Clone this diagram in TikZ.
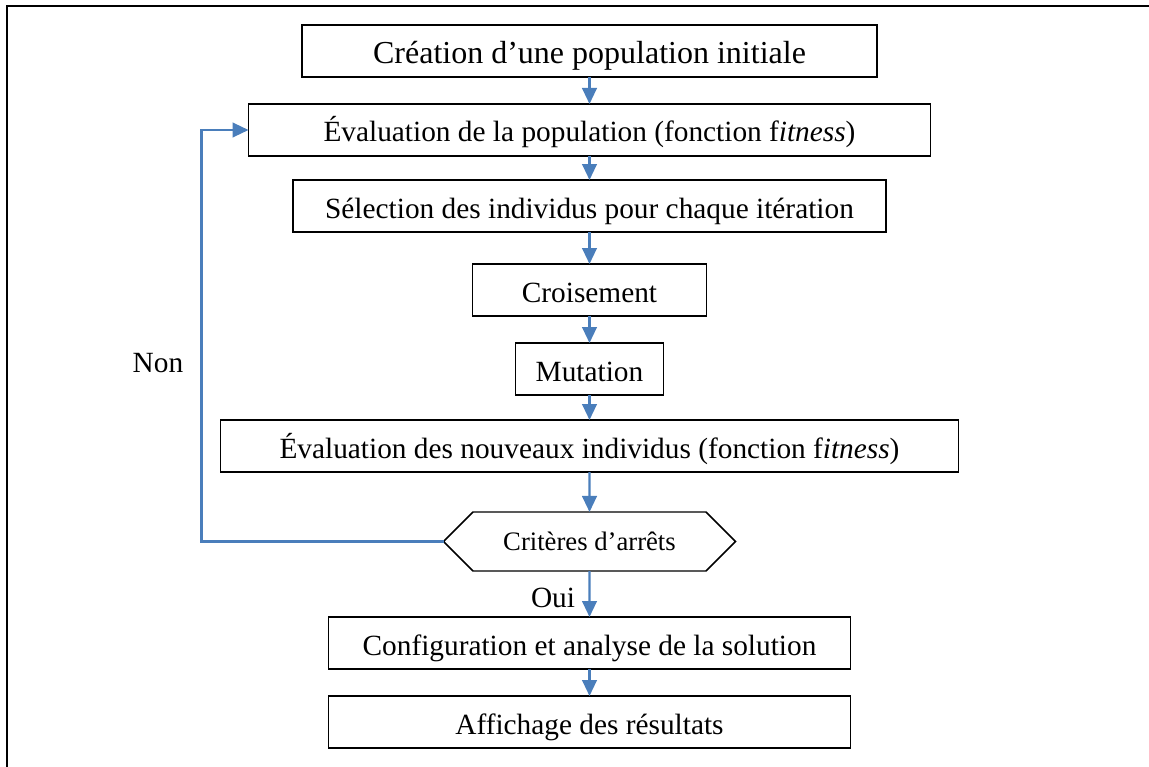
\documentclass[tikz,border=0pt]{standalone}
\usepackage{fontspec}
\setmainfont{Liberation Serif}
\usepackage{tikz}
\usetikzlibrary{positioning}
\usetikzlibrary{arrows.meta,shapes.symbols}
\definecolor{flowblue}{RGB}{74,126,187}

\begin{document}
\begin{tikzpicture}[x=0.75pt,y=-0.75pt]
    \useasboundingbox (0,0) rectangle (1149,767);
    %Frame
    \draw[line width=1.5pt] (7,767) -- (7,6) -- (1149,6);
    \begin{scope}[every node/.style={shape=rectangle,draw,line width=1.1pt,minimum height=39pt,inner sep=0pt,outer sep=0pt,text height=18pt,text depth=0pt,font=\fontsize{22}{26}\selectfont}]
        \node(1) at (589.5,51) [minimum width=431.25pt,text height=19.5pt,font=\fontsize{24}{28}\selectfont] {Création d’une population initiale};
        \node(2)[below=20.25pt of 1,minimum width=511.5pt] {Évaluation de la population (fonction f\textit{itness})};
        \node(3)[below=18pt of 2,minimum width=444.75pt] {Sélection des individus pour chaque itération};
        \node(4)[below=24pt of 3,minimum width=175.5pt] {Croisement};
        \node(5)[below=20.25pt of 4,minimum width=111pt] {Mutation};
        \node(6)[below=18.75pt of 5,minimum width=553.5pt] {Évaluation des nouveaux individus (fonction f\textit{itness})};
        \node(7)[below=30pt of 6,shape=signal,signal to=west and east,signal pointer angle=90,minimum width=219pt,minimum height=44.25pt,text height=14pt,font=\fontsize{20}{24}\selectfont] {Critères d’arrêts};
        \node(8)[below=34.5pt of 7,minimum width=391.5pt] {Configuration et analyse de la solution};
        \node(9)[below=20.25pt of 8,minimum width=391.5pt] {Affichage des résultats};
    \end{scope}
    \node(non) at (158,363) [font=\fontsize{22}{26}\selectfont] {Non};
    \node(oui) at (553,598) [font=\fontsize{22}{26}\selectfont] {Oui};
    %Arrows
    \begin{scope}[flowblue,line width=1.6pt,-{Triangle[length=12pt,width=11pt]}]
        \draw (1) -- (2);
        \draw (2) -- (3);
        \draw (3) -- (4);
        \draw (4) -- (5);
        \draw (5) -- (6);
        \draw (6) -- (7);
        \draw (7) -- (8);
        \draw (8) -- (9);
        \draw (7.west) -- ++(-181.5pt,0) |- (2.west);
    \end{scope}
\end{tikzpicture}
\end{document}
